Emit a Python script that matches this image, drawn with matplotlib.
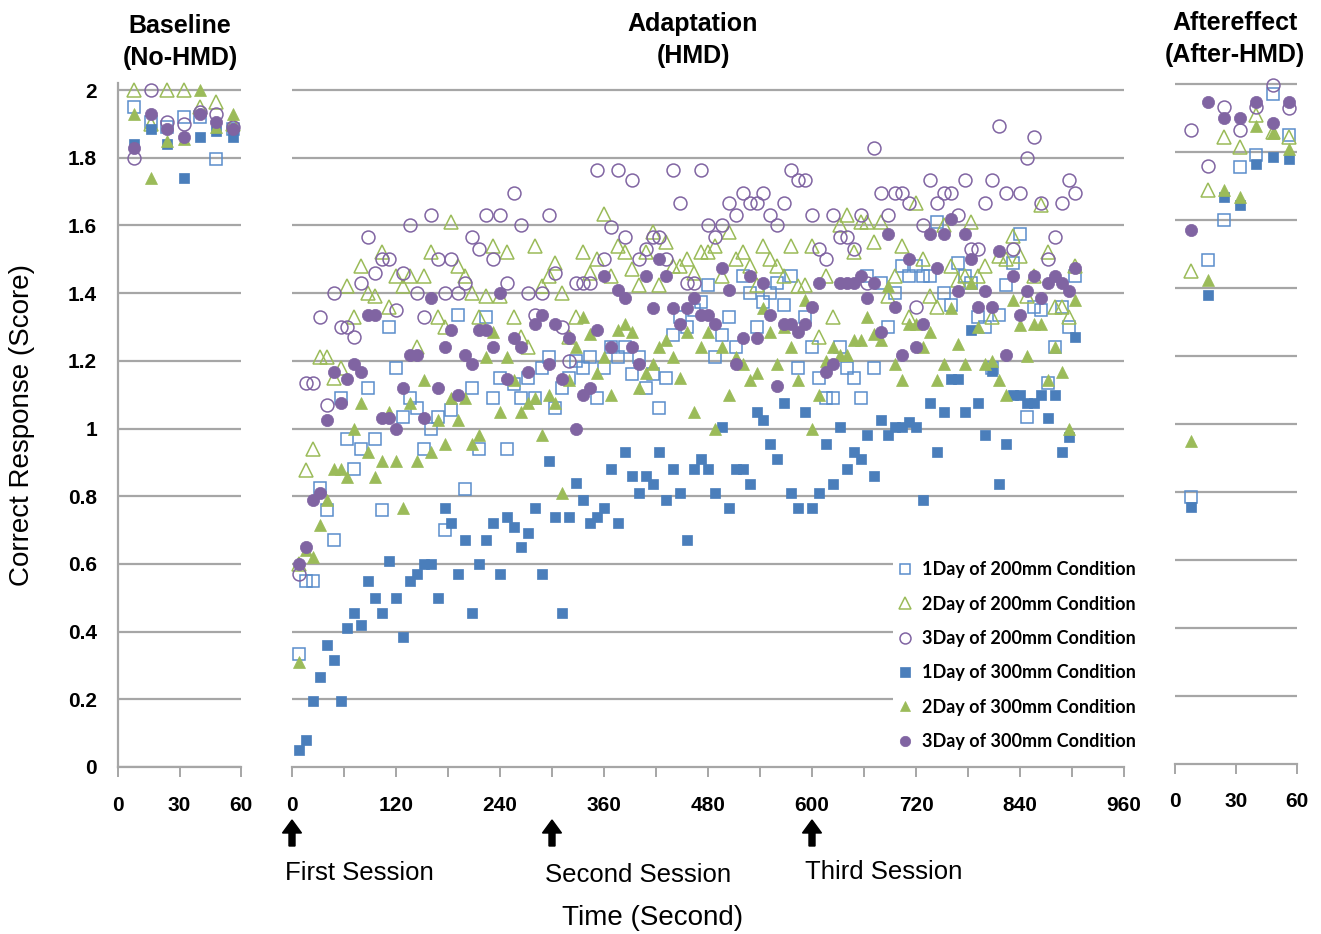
import matplotlib
matplotlib.use('Agg')
import matplotlib.pyplot as plt
from matplotlib.patches import FancyArrow

W, H = 1321, 934
plt.rcParams['font.family'] = ['Liberation Sans', 'DejaVu Sans']

# ---------------- data ----------------
base_t = [8, 16, 24, 32, 40, 48, 56]
base_1d200 = [1.95, 1.905, 1.89, 1.92, 1.92, 1.795, 1.885]
base_2d200 = [2.0, 1.90, 2.0, 2.0, 1.95, 1.965, 1.90]
base_3d200 = [1.80, 2.0, 1.905, 1.90, 1.935, 1.93, 1.89]
base_1d300 = [1.84, 1.885, 1.84, 1.74, 1.86, 1.88, 1.86]
base_2d300 = [1.93, 1.74, 1.85, 1.855, 2.0, 1.89, 1.93]
base_3d300 = [1.83, 1.93, 1.885, 1.86, 1.93, 1.905, 1.885]

adapt_t = list(range(8, 905, 8))

adapt_1d200 = [0.335, 0.55, 0.55, 0.825, 0.76, 0.67, 1.09, 0.97, 0.88, 0.94, 1.12, 0.97, 0.76, 1.30, 1.18, 1.035, 1.09, 1.06, 0.94, 1.0, 1.035, 0.70, 1.055,
               1.335, 0.82, 1.12, 0.94, 1.33, 1.09, 1.15, 0.94, 1.13, 1.09, 1.15, 1.09, 1.18, 1.21, 1.06, 1.12, 1.15, 1.20, 1.18, 1.21, 1.09, 1.18, 1.24,
               1.21, 1.24, 1.16, 1.21, 1.12, 1.16, 1.06, 1.15, 1.275, 1.33, 1.30, 1.35, 1.375, 1.425, 1.21, 1.275, 1.33, 1.24, 1.45, 1.40, 1.30, 1.375, 1.40,
               1.43, 1.365, 1.45, 1.18, 1.33, 1.24, 1.15, 1.09, 1.09, 1.24, 1.18, 1.15, 1.09, 1.45, 1.18, 1.43, 1.30, 1.40, 1.48, 1.45, 1.48, 1.45, 1.45, 1.61,
               1.40, 1.365, 1.49, 1.45, 1.43, 1.33, 1.30, 1.18, 1.335, 1.425, 1.49, 1.575, 1.035, 1.36, 1.35, 1.135, 1.24, 1.36, 1.30, 1.45]
adapt_2d200 = [0.60, 0.877, 0.94, 1.21, 1.21, 1.15, 1.18, 1.42, 1.33, 1.48, 1.40, 1.39, 1.52, 1.36, 1.45, 1.42, 1.45, 1.24, 1.45, 1.52, 1.33, 1.30, 1.61,
               1.48, 1.45, 1.40, 1.33, 1.39, 1.54, 1.39, 1.52, 1.33, 1.27, 1.24, 1.54, 1.42, 1.45, 1.49, 1.40, 1.27, 1.33, 1.52, 1.46, 1.50, 1.635, 1.45,
               1.54, 1.52, 1.47, 1.425, 1.52, 1.58, 1.425, 1.55, 1.48, 1.48, 1.50, 1.46, 1.52, 1.52, 1.54, 1.45, 1.58, 1.50, 1.52, 1.48, 1.425, 1.54, 1.50,
               1.48, 1.45, 1.54, 1.42, 1.425, 1.54, 1.27, 1.45, 1.33, 1.60, 1.63, 1.52, 1.61, 1.61, 1.55, 1.61, 1.39, 1.45, 1.54, 1.33, 1.665, 1.50, 1.39, 1.36,
               1.60, 1.48, 1.44, 1.45, 1.61, 1.45, 1.48, 1.33, 1.51, 1.50, 1.57, 1.51, 1.39, 1.45, 1.66, 1.52, 1.36, 1.36, 1.33, 1.48]
adapt_3d200 = [0.57, 1.135, 1.135, 1.33, 1.07, 1.40, 1.30, 1.30, 1.27, 1.43, 1.565, 1.46, 1.50, 1.50, 1.35, 1.46, 1.60, 1.40, 1.33, 1.63, 1.50, 1.40, 1.50,
               1.40, 1.43, 1.565, 1.53, 1.63, 1.50, 1.63, 1.43, 1.695, 1.60, 1.40, 1.335, 1.40, 1.63, 1.46, 1.30, 1.20, 1.43, 1.43, 1.43, 1.765, 1.50, 1.595,
               1.765, 1.565, 1.735, 1.50, 1.53, 1.565, 1.565, 1.50, 1.765, 1.665, 1.43, 1.43, 1.765, 1.60, 1.565, 1.60, 1.665, 1.63, 1.695, 1.665, 1.665, 1.695, 1.63,
               1.60, 1.665, 1.765, 1.735, 1.735, 1.63, 1.53, 1.50, 1.63, 1.565, 1.565, 1.53, 1.63, 1.43, 1.83, 1.695, 1.63, 1.695, 1.695, 1.665, 1.36, 1.60, 1.735,
               1.665, 1.695, 1.695, 1.63, 1.735, 1.53, 1.53, 1.665, 1.735, 1.895, 1.695, 1.53, 1.695, 1.80, 1.86, 1.665, 1.50, 1.565, 1.665, 1.735, 1.695]
adapt_1d300 = [0.05, 0.08, 0.195, 0.265, 0.36, 0.315, 0.195, 0.41, 0.455, 0.42, 0.55, 0.50, 0.455, 0.61, 0.50, 0.385, 0.55, 0.57, 0.60, 0.60,
               0.50, 0.765, 0.72, 0.57, 0.67, 0.455, 0.60, 0.67, 0.72, 0.57, 0.74, 0.71, 0.65, 0.69, 0.765, 0.57, 0.905, 0.74, 0.455, 0.74,
               0.84, 0.79, 0.72, 0.74, 0.765, 0.88, 0.72, 0.93, 0.86, 0.81, 0.86, 0.835, 0.93, 0.79, 0.88, 0.81, 0.67, 0.88, 0.91, 0.88,
               0.81, 1.005, 0.765, 0.88, 0.88, 0.835, 1.05, 1.025, 0.955, 0.91, 1.075, 0.81, 0.765, 1.05, 0.765, 0.81, 0.955, 0.835, 1.005, 0.88,
               0.93, 0.91, 0.98, 0.86, 1.025, 0.98, 1.005, 1.005, 1.02, 1.005, 0.79, 1.075, 0.93, 1.05, 1.145, 1.145, 1.05, 1.29, 1.075, 0.98,
               1.17, 0.835, 0.955, 1.10, 1.10, 1.075, 1.075, 1.10, 1.03, 1.10, 0.93, 0.975, 1.27]
adapt_2d300 = [0.31, 0.64, 0.62, 0.715, 0.79, 0.88, 0.88, 0.857, 1.0, 1.075, 0.93, 0.857, 0.905, 1.05, 0.905, 0.765, 1.075, 0.905, 1.143, 0.93, 1.025, 0.955, 1.09,
               1.025, 1.09, 0.955, 0.98, 1.21, 1.285, 1.05, 1.21, 1.143, 1.05, 1.075, 1.09, 0.98, 1.10, 1.075, 0.81, 1.143, 1.24, 1.33, 1.28, 1.165, 1.21, 1.10,
               1.29, 1.31, 1.285, 1.12, 1.165, 1.19, 1.24, 1.26, 1.21, 1.15, 1.285, 1.05, 1.24, 1.285, 1.0, 1.24, 1.10, 1.21, 1.19, 1.143, 1.165, 1.355, 1.285,
               1.19, 1.30, 1.24, 1.143, 1.38, 1.0, 1.10, 1.20, 1.24, 1.217, 1.217, 1.26, 1.26, 1.33, 1.28, 1.26, 1.42, 1.19, 1.143, 1.31, 1.31, 1.24, 1.285, 1.143,
               1.19, 1.355, 1.25, 1.19, 1.43, 1.30, 1.19, 1.20, 1.143, 1.10, 1.38, 1.305, 1.215, 1.31, 1.31, 1.143, 1.24, 1.167, 1.0, 1.38]
adapt_3d300 = [0.60, 0.65, 0.79, 0.81, 1.025, 1.167, 1.075, 1.145, 1.19, 1.167, 1.335, 1.335, 1.03, 1.03, 1.0, 1.12, 1.217, 1.217, 1.03, 1.385, 1.12, 1.24, 1.29,
               1.10, 1.217, 1.19, 1.29, 1.29, 1.24, 1.40, 1.145, 1.267, 1.24, 1.167, 1.31, 1.335, 1.19, 1.31, 1.145, 1.267, 1.0, 1.10, 1.12, 1.29, 1.45, 1.24,
               1.41, 1.385, 1.24, 1.19, 1.45, 1.355, 1.50, 1.45, 1.355, 1.31, 1.355, 1.385, 1.335, 1.335, 1.31, 1.475, 1.41, 1.19, 1.267, 1.45, 1.267, 1.43, 1.335,
               1.125, 1.31, 1.31, 1.285, 1.31, 1.36, 1.43, 1.167, 1.19, 1.43, 1.43, 1.43, 1.45, 1.385, 1.43, 1.285, 1.575, 1.36, 1.217, 1.50, 1.24, 1.31, 1.575,
               1.475, 1.575, 1.62, 1.405, 1.575, 1.50, 1.36, 1.405, 1.36, 1.525, 1.217, 1.45, 1.335, 1.405, 1.45, 1.385, 1.43, 1.45, 1.43, 1.405, 1.475]

after_t = [8, 16, 24, 32, 40, 48, 56]
after_1d200 = [0.786, 1.483, 1.60, 1.755, 1.79, 1.97, 1.85]
after_2d200 = [1.45, 1.687, 1.844, 1.814, 1.908, 1.86, 1.844]
after_3d200 = [1.865, 1.76, 1.932, 1.865, 1.932, 1.997, 1.93]
after_1d300 = [0.756, 1.38, 1.667, 1.643, 1.764, 1.785, 1.78]
after_2d300 = [0.95, 1.424, 1.687, 1.667, 1.876, 1.855, 1.808]
after_3d300 = [1.57, 1.947, 1.90, 1.90, 1.947, 1.885, 1.947]

labels = ['1Day of 200mm Condition', '2Day of 200mm Condition', '3Day of 200mm Condition',
          '1Day of 300mm Condition', '2Day of 300mm Condition', '3Day of 300mm Condition']

BLUE = '#4a7ebb'
BLUE_O = '#5a8dcb'
GREEN = '#9bbb59'
PURPLE = '#8064a2'
GRID = '#a6a6a6'

styles = [
    dict(marker='s', ms=8.2, mfc='none', mec=BLUE_O, mew=1.1),
    dict(marker='^', ms=9.5, mfc='none', mec=GREEN, mew=1.1),
    dict(marker='o', ms=9.3, mfc='none', mec=PURPLE, mew=1.1),
    dict(marker='s', ms=7.8, mfc=BLUE, mec=BLUE, mew=0.5),
    dict(marker='^', ms=9.0, mfc=GREEN, mec=GREEN, mew=0.5),
    dict(marker='o', ms=8.8, mfc=PURPLE, mec=PURPLE, mew=0.5),
]

fig = plt.figure(figsize=(W / 100, H / 100), dpi=100)


def px_axes(left, right, top, bottom):
    return fig.add_axes([left / W, 1 - bottom / H, (right - left) / W, (bottom - top) / H])


YMAX = 2.02
ax_b = px_axes(118, 241, 767 - YMAX * 338.5, 767)
ax_m = px_axes(292, 1124, 767 - YMAX * 338.5, 767)
ax_a = px_axes(1175, 1297, 764 - YMAX * 340, 764)

tick_font = dict(fontsize=15, fontweight='bold')

for ax in (ax_b, ax_m, ax_a):
    ax.set_ylim(0, YMAX)
    ax.set_yticks([0.2 * i for i in range(1, 11)])
    ax.yaxis.grid(True, color=GRID, lw=1.6)
    ax.set_axisbelow(True)
    for s in ('top', 'right', 'left'):
        ax.spines[s].set_visible(False)
    ax.spines['bottom'].set_color(GRID)
    ax.spines['bottom'].set_linewidth(1.6)
    ax.tick_params(axis='y', length=0, labelleft=False)
    ax.tick_params(axis='x', which='both', direction='out', length=7, width=1.4, color=GRID,
                   pad=14, labelsize=15)

# baseline panel has a visible left axis with labels
ax_b.spines['left'].set_visible(True)
ax_b.spines['left'].set_color(GRID)
ax_b.spines['left'].set_linewidth(1.6)
ax_b.set_yticks([0.2 * i for i in range(0, 11)])
ax_b.set_yticklabels(['0', '0.2', '0.4', '0.6', '0.8', '1', '1.2', '1.4', '1.6', '1.8', '2'],
                     fontweight='bold')
ax_b.tick_params(axis='y', labelleft=True, length=0, pad=15, labelsize=15)

ax_b.set_xlim(0, 60)
ax_b.set_xticks([0, 30, 60])
ax_b.set_xticklabels(['0', '30', '60'], **tick_font)
ax_a.set_xlim(0, 60)
ax_a.set_xticks([0, 30, 60])
ax_a.set_xticklabels(['0', '30', '60'], **tick_font)
ax_a.tick_params(axis='x', pad=13)
ax_m.set_xlim(0, 960)
ax_m.set_xticks(list(range(0, 961, 120)))
ax_m.set_xticklabels([str(v) for v in range(0, 961, 120)], **tick_font)
ax_m.set_xticks(list(range(60, 961, 120)), minor=True)

base_series = [base_1d200, base_2d200, base_3d200, base_1d300, base_2d300, base_3d300]
adapt_series = [adapt_1d200, adapt_2d200, adapt_3d200, adapt_1d300, adapt_2d300, adapt_3d300]
after_series = [after_1d200, after_2d200, after_3d200, after_1d300, after_2d300, after_3d300]

handles = []
for i in range(6):
    ax_b.plot(base_t, base_series[i], ls='none', clip_on=False, zorder=3 + i, **styles[i])
    h, = ax_m.plot(adapt_t, adapt_series[i], ls='none', clip_on=False, zorder=3 + i,
                   label=labels[i], **styles[i])
    ax_a.plot(after_t, after_series[i], ls='none', clip_on=False, zorder=3 + i, **styles[i])
    handles.append(h)

leg = fig.legend(handles=handles, labels=labels, loc='upper left',
                 bbox_to_anchor=(893 / W, 1 - 558.5 / H), frameon=True, fancybox=False,
                 borderpad=0.15, borderaxespad=0, handlelength=1.0, handletextpad=0.45,
                 labelspacing=0.96, markerscale=0.85,
                 prop=dict(family=['Lato', 'DejaVu Sans'], weight='bold', size=13))
leg.get_frame().set_facecolor('white')
leg.get_frame().set_edgecolor('none')
leg.get_frame().set_alpha(1)
leg.set_zorder(20)

# titles
title_kw = dict(fontsize=18, fontweight='bold', ha='center', va='center', linespacing=1.45)
fig.text(180 / W, 1 - 42 / H, 'Baseline\n(No-HMD)', **title_kw)
fig.text(693 / W, 1 - 40 / H, 'Adaptation\n(HMD)', **title_kw)
fig.text(1235 / W, 1 - 39 / H, 'Aftereffect\n(After-HMD)', **title_kw)

fig.text(22 / W, 1 - 425 / H, 'Correct Response (Score)', rotation=90, fontsize=20,
         ha='center', va='center')
fig.text(653 / W, 1 - 918 / H, 'Time (Second)', fontsize=20, ha='center', va='center')

# session arrows and labels
overlay = fig.add_axes([0, 0, 1, 1], zorder=-1)
overlay.set_xlim(0, W)
overlay.set_ylim(H, 0)
overlay.axis('off')
sessions = [0, 300, 600]
session_names = ['First Session', 'Second Session', 'Third Session']
session_label_y = [873, 875, 872]
for t, name, ly in zip(sessions, session_names, session_label_y):
    x = 292 + t * 832 / 960
    overlay.add_patch(FancyArrow(x, 846, 0, -26, width=6, head_width=19, head_length=13,
                                 length_includes_head=True, color='black'))
    overlay.text(x - 7, ly, name, fontsize=18.5, ha='left', va='center')

fig.savefig('out.png', dpi=100)
